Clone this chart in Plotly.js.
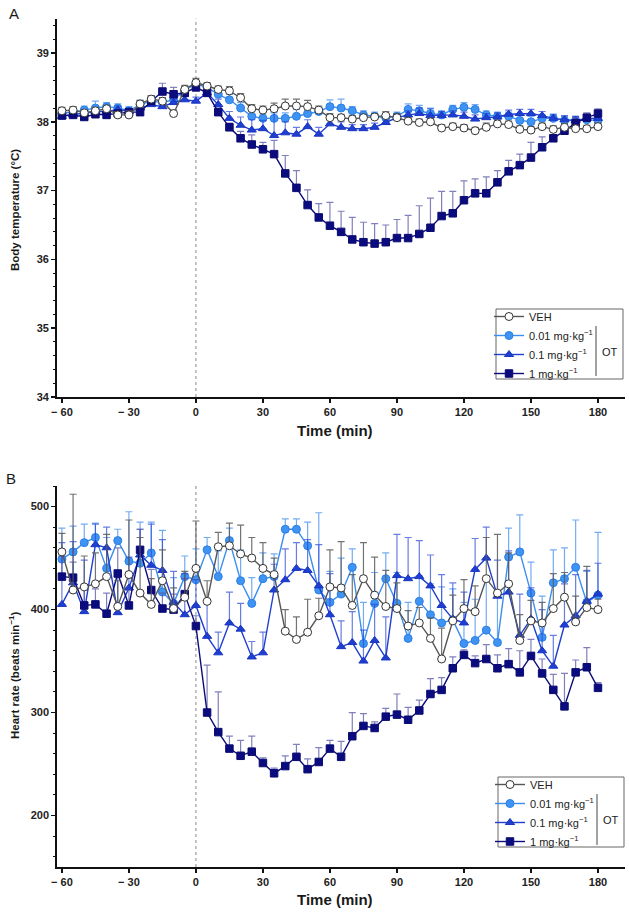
<!DOCTYPE html>
<html>
<head>
<meta charset="utf-8">
<script src="https://cdn.plot.ly/plotly-3.0.1.min.js"></script>
<style>
html,body{margin:0;padding:0;background:#fff;}
#chart{width:629px;height:916px;}
</style>
</head>
<body>
<div id="chart"></div>
<script>
// ---- Data ----
var time = [-60,-55,-50,-45,-40,-35,-30,-25,-20,-15,-10,-5,0,5,10,15,20,25,30,35,40,45,50,55,60,65,70,75,80,85,90,95,100,105,110,115,120,125,130,135,140,145,150,155,160,165,170,175,180];

var seriesNames = ["VEH", "0.01 mg·kg<sup>−1</sup>", "0.1 mg·kg<sup>−1</sup>", "1 mg·kg<sup>−1</sup>"];

// Panel A: body temperature (°C), mean and upper SEM
var tempVEH = [38.16,38.17,38.13,38.16,38.19,38.10,38.10,38.26,38.33,38.30,38.12,38.47,38.57,38.52,38.47,38.45,38.35,38.19,38.17,38.19,38.23,38.23,38.22,38.17,38.06,38.06,38.04,38.06,38.07,38.09,38.06,38.01,37.99,38.00,37.91,37.93,37.91,37.87,37.92,37.97,37.96,37.89,37.88,37.93,37.89,37.92,37.90,37.90,37.93];
var tempVEHerr = [0.05,0.05,0.04,0.05,0.05,0.05,0.06,0.05,0.05,0.05,0.05,0.06,0.06,0.05,0.05,0.06,0.06,0.06,0.06,0.08,0.10,0.10,0.09,0.06,0.06,0.05,0.05,0.05,0.05,0.06,0.06,0.05,0.05,0.05,0.05,0.05,0.05,0.05,0.06,0.05,0.05,0.05,0.05,0.05,0.05,0.05,0.05,0.05,0.05];
var temp001 = [38.12,38.14,38.17,38.20,38.22,38.20,38.16,38.25,38.30,38.28,38.32,38.46,38.55,38.50,38.40,38.32,38.20,38.08,38.05,38.05,38.05,38.08,38.12,38.15,38.22,38.20,38.16,38.10,38.08,38.06,38.08,38.18,38.16,38.12,38.10,38.18,38.21,38.18,38.10,38.08,38.08,38.02,38.00,38.05,38.05,38.02,38.02,38.03,38.02];
var temp001err = [0.05,0.05,0.06,0.10,0.06,0.06,0.06,0.06,0.06,0.05,0.05,0.05,0.05,0.05,0.06,0.08,0.08,0.08,0.06,0.08,0.08,0.10,0.08,0.06,0.10,0.13,0.06,0.06,0.06,0.06,0.06,0.08,0.08,0.08,0.06,0.06,0.07,0.07,0.06,0.06,0.06,0.08,0.08,0.06,0.06,0.06,0.06,0.06,0.06];
var temp01 = [38.08,38.10,38.12,38.15,38.15,38.18,38.15,38.20,38.25,38.22,38.28,38.32,38.30,38.42,38.25,38.05,37.95,37.88,37.90,37.80,37.84,37.82,37.93,37.82,37.97,37.92,37.90,37.90,37.92,37.99,38.06,38.10,38.12,38.09,38.09,38.10,38.08,38.04,38.06,38.07,38.11,38.12,38.12,38.09,38.05,38.03,38.02,38.05,38.05];
var temp01err = [0.05,0.05,0.05,0.05,0.05,0.05,0.05,0.05,0.06,0.06,0.05,0.05,0.06,0.06,0.08,0.10,0.12,0.15,0.12,0.36,0.16,0.10,0.10,0.10,0.08,0.08,0.06,0.06,0.06,0.06,0.06,0.06,0.08,0.10,0.06,0.06,0.06,0.06,0.06,0.06,0.06,0.06,0.06,0.06,0.06,0.06,0.06,0.06,0.06];
var temp1 = [38.09,38.10,38.07,38.11,38.10,38.12,38.14,38.14,38.30,38.44,38.40,38.42,38.50,38.42,38.14,37.92,37.76,37.67,37.60,37.53,37.25,37.04,36.79,36.61,36.49,36.40,36.29,36.25,36.23,36.25,36.31,36.31,36.37,36.46,36.63,36.67,36.86,36.96,36.96,37.12,37.28,37.37,37.48,37.63,37.76,37.87,37.98,38.06,38.12];
var temp1err = [0.04,0.04,0.04,0.04,0.05,0.05,0.05,0.05,0.08,0.12,0.10,0.08,0.06,0.06,0.06,0.06,0.10,0.14,0.10,0.20,0.26,0.25,0.22,0.20,0.34,0.30,0.32,0.29,0.29,0.25,0.27,0.33,0.41,0.43,0.36,0.32,0.28,0.21,0.24,0.17,0.16,0.16,0.22,0.15,0.12,0.10,0.08,0.07,0.07];

// Panel B: heart rate (beats·min⁻¹), mean and upper SEM
var hrVEH = [456,419,422,425,432,403,434,416,405,428,401,412,440,408,461,462,454,450,440,434,379,371,378,394,422,421,404,430,414,403,401,384,387,372,352,389,401,398,430,416,425,370,389,387,401,412,388,402,400];
var hrVEHerr = [18,93,30,30,41,25,53,54,25,30,20,25,46,20,14,22,28,20,25,16,21,22,32,17,36,45,30,35,37,35,25,15,15,20,30,25,28,25,40,57,30,25,20,20,34,24,25,40,10];
var hr001 = [449,456,465,470,440,467,447,445,455,417,406,432,429,458,432,467,428,406,430,432,478,478,462,419,407,415,441,367,406,430,406,372,408,395,387,390,367,370,380,368,451,456,416,373,426,430,441,407,414];
var hr001err = [30,25,18,14,30,11,48,40,30,60,25,20,30,12,25,12,30,25,25,22,10,10,23,75,30,35,18,40,30,25,30,35,25,30,35,30,40,40,50,45,28,36,30,40,32,30,46,30,61];
var hr01 = [405,426,398,463,460,397,421,453,443,438,407,395,404,374,358,387,381,354,358,419,429,440,438,423,395,364,368,350,370,353,433,430,432,423,404,391,387,439,450,413,417,375,391,360,345,385,394,408,415];
var hr01err = [60,40,50,20,20,40,30,25,40,30,30,40,25,35,20,30,25,15,20,25,30,25,30,40,40,25,30,30,35,40,40,40,35,30,30,35,30,30,30,35,40,40,30,40,30,40,40,30,30];
var hr1 = [432,431,404,405,396,435,404,458,419,401,400,415,384,300,281,265,258,262,251,241,248,257,245,252,265,257,277,287,285,296,298,293,302,318,322,343,356,348,352,343,347,339,355,338,322,306,339,344,324];
var hr1err = [20,15,20,15,20,25,15,20,20,15,15,15,10,46,39,12,15,15,5,5,10,12,10,14,8,15,23,12,6,8,20,12,10,15,12,11,5,7,14,13,15,21,16,14,15,32,12,19,5];

var xTickVals = [-60,-30,0,30,60,90,120,150,180];
var xTickText = ["\u2212 60","\u2212 30","0","30","60","90","120","150","180"];
var tempTickVals = [34,35,36,37,38,39];
var hrTickVals = [200,300,400,500];

// ---- Styles ----
var FONT = "Liberation Sans, Arial, Helvetica, sans-serif";
var W = 629, H = 916, ML = 57, MR = 4;
function px(x){ return (x - ML) / (W - ML - MR); }
function py(y){ return 1 - y / H; }

var styles = [
  {line:"#555555", fill:"#ffffff", edge:"#333333", sym:"circle", err:"rgba(90,90,90,0.85)"},
  {line:"#3a8ef0", fill:"#3f93f2", edge:"#2a7fe6", sym:"circle", err:"rgba(80,150,240,0.8)"},
  {line:"#1f3fd0", fill:"#1f3fd0", edge:"#1a35c0", sym:"triangle-up", err:"rgba(40,70,215,0.7)"},
  {line:"#0b0b7a", fill:"#0b0b80", edge:"#0b0b70", sym:"square", err:"rgba(85,85,165,0.75)"}
];

function mk(i, y, err, xa, ya, leg){
  var s = styles[i];
  return {
    x: time, y: y, xaxis: xa, yaxis: ya, type: "scatter", mode: "lines+markers",
    name: seriesNames[i], legend: leg, showlegend: true, legendrank: i + 1,
    line: {color: s.line, width: 1.4},
    marker: {symbol: s.sym, size: (i === 3 ? 7.5 : 8), color: s.fill, line: {color: s.edge, width: 1}},
    error_y: {type: "data", symmetric: false, array: err, arrayminus: err.map(function(){return 0;}),
              color: s.err, thickness: 1.2, width: 3.5},
    hoverinfo: "x+y"
  };
}

var traces = [
  mk(1, temp001, temp001err, "x", "y", "legend"),
  mk(2, temp01, temp01err, "x", "y", "legend"),
  mk(3, temp1, temp1err, "x", "y", "legend"),
  mk(0, tempVEH, tempVEHerr, "x", "y", "legend"),
  mk(1, hr001, hr001err, "x2", "y2", "legend2"),
  mk(2, hr01, hr01err, "x2", "y2", "legend2"),
  mk(3, hr1, hr1err, "x2", "y2", "legend2"),
  mk(0, hrVEH, hrVEHerr, "x2", "y2", "legend2")
];

var tickFont = {family: FONT, size: 11, color: "#222", weight: "bold"};

function xAxis(anchor){
  return {
    anchor: anchor, domain: [0, 1], range: [-62.2, 192.1],
    tickmode: "array", tickvals: xTickVals, ticktext: xTickText,
    ticks: "outside", ticklen: 4, tickwidth: 1.5, tickcolor: "#111",
    showline: true, linecolor: "#111", linewidth: 1.8,
    showgrid: false, zeroline: false, tickfont: tickFont, fixedrange: true
  };
}
function yAxis(anchor, domain, range, vals, minorStep, minorStart){
  return {
    anchor: anchor, domain: domain, range: range,
    tickmode: "array", tickvals: vals, ticktext: vals.map(String),
    ticks: "outside", ticklen: 4, tickwidth: 1.5, tickcolor: "#111",
    minor: {tickmode: "linear", tick0: minorStart, dtick: minorStep, ticks: "outside", ticklen: 2.5, tickwidth: 1, tickcolor: "#111"},
    showline: true, linecolor: "#111", linewidth: 1.8,
    showgrid: false, zeroline: false, tickfont: tickFont, fixedrange: true
  };
}

var legFont = {family: FONT, size: 11, color: "#222"};
function ann(text, x, y, size, extra){
  var a = {text: text, xref: "paper", yref: "paper", x: px(x), y: py(y), xanchor: "center", yanchor: "middle",
           showarrow: false, font: {family: FONT, size: size, color: "#1a1a1a"}};
  for (var k in (extra || {})) { if (k === "weight") a.font.weight = extra[k]; else a[k] = extra[k]; }
  return a;
}

var layout = {
  width: W, height: H,
  margin: {l: ML, r: MR, t: 0, b: 0},
  paper_bgcolor: "#fff", plot_bgcolor: "#fff",
  font: {family: FONT},
  xaxis: xAxis("y"),
  yaxis: yAxis("x", [py(397), py(18.6)], [34, 39.5], tempTickVals, 0.2, 34),
  xaxis2: xAxis("y2"),
  yaxis2: yAxis("x2", [py(867), py(486)], [150, 520], hrTickVals, 20, 0),
  legend: {x: px(489), y: py(302), xanchor: "left", yanchor: "top", bgcolor: "rgba(0,0,0,0)",
           borderwidth: 0, font: legFont, tracegroupgap: 0, itemwidth: 30, traceorder: "normal"},
  legend2: {x: px(490), y: py(770), xanchor: "left", yanchor: "top", bgcolor: "rgba(0,0,0,0)",
           borderwidth: 0, font: legFont, tracegroupgap: 0, itemwidth: 30, traceorder: "normal"},
  shapes: [
    {type: "line", xref: "x", yref: "y domain", x0: 0, x1: 0, y0: 0, y1: 1, line: {color: "#8a8a8a", width: 1, dash: "dot"}, layer: "below"},
    {type: "line", xref: "x2", yref: "y2 domain", x0: 0, x1: 0, y0: 0, y1: 1, line: {color: "#8a8a8a", width: 1, dash: "dot"}, layer: "below"},
    {type: "rect", xref: "paper", yref: "paper", x0: px(496), x1: px(623), y0: py(379), y1: py(309), line: {color: "#666", width: 1}},
    {type: "line", xref: "paper", yref: "paper", x0: px(596), x1: px(596), y0: py(376), y1: py(326), line: {color: "#444", width: 1}},
    {type: "rect", xref: "paper", yref: "paper", x0: px(498), x1: px(624), y0: py(847), y1: py(777), line: {color: "#666", width: 1}},
    {type: "line", xref: "paper", yref: "paper", x0: px(597), x1: px(597), y0: py(845), y1: py(794), line: {color: "#444", width: 1}}
  ],
  annotations: [
    ann("A", 14, 14, 15),
    ann("B", 11, 478, 15),
    ann("Time (min)", 335, 430, 15, {weight: "bold"}),
    ann("Time (min)", 335, 899, 15, {weight: "bold"}),
    ann("Body temperature (°C)", 15, 210, 11.5, {weight: "bold", textangle: -90}),
    ann("Heart rate (beats min<sup>−1</sup>)", 14, 675, 11.5, {weight: "bold", textangle: -90}),
    ann("OT", 610, 352, 11),
    ann("OT", 611, 820, 11)
  ]
};

Plotly.newPlot("chart", traces, layout, {displayModeBar: false, staticPlot: true});
</script>
</body>
</html>
